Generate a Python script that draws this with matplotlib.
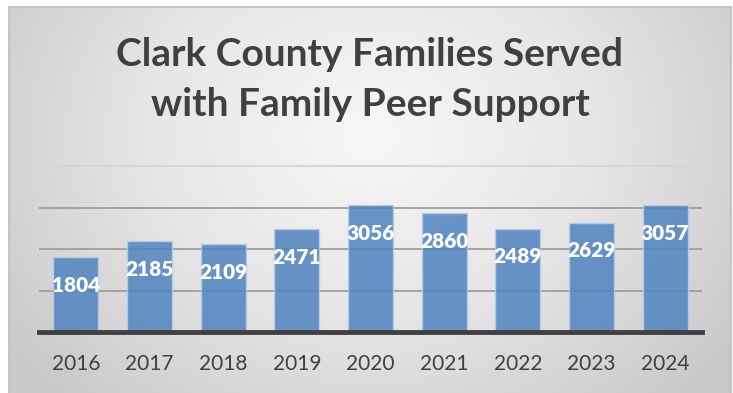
import matplotlib
matplotlib.use("Agg")
import matplotlib.pyplot as plt
import numpy as np
from matplotlib.colors import LinearSegmentedColormap

years = ["2016", "2017", "2018", "2019", "2020", "2021", "2022", "2023", "2024"]
served = [1804, 2185, 2109, 2471, 3056, 2860, 2489, 2629, 3057]
title_lines = ["Clark County Families Served", "with Family Peer Support"]

W, H = 733, 393
fig = plt.figure(figsize=(W / 100, H / 100), dpi=100)
fig.patch.set_facecolor("white")

# chart area background (radial gradient)
bx0, bx1, by0, by1 = 9, 731, 7, 393
bg = fig.add_axes([bx0 / W, 1 - by1 / H, (bx1 - bx0) / W, (by1 - by0) / H])
ny, nx = 200, 400
yy, xx = np.mgrid[0:ny, 0:nx]
cx, cy = nx * 0.5, ny * 0.33
d = np.sqrt(((xx - cx) / (nx * 0.62)) ** 2 + ((yy - cy) / (ny * 0.95)) ** 2)
d = np.clip(d, 0, 1)
cmap = LinearSegmentedColormap.from_list("g", ["#f7f7f7", "#e6e6e6", "#c9c9c9"])
bg.imshow(d, cmap=cmap, aspect="auto", extent=[0, 1, 0, 1], origin="upper")
bg.set_xlim(0, 1); bg.set_ylim(0, 1)
bg.set_xticks([]); bg.set_yticks([])
for s in ["top", "left", "right"]:
    bg.spines[s].set_color("#bdbdbd")
    bg.spines[s].set_linewidth(1.2)
bg.spines["bottom"].set_visible(False)

# plot area
px0, px1, py0, py1 = 39, 702, 166, 332
ax = fig.add_axes([px0 / W, 1 - py1 / H, (px1 - px0) / W, (py1 - py0) / H])
ax.set_facecolor("none")
x = np.arange(len(years))
ax.set_xlim(-0.5, len(years) - 0.5)
ax.set_ylim(0, 4000)
for gv in [1000, 2000, 3000]:
    ax.axhline(gv, color="#a3a3a3", lw=1.4, zorder=1)
ax.axhline(4000, color="#d6d6d6", lw=1.4, zorder=1, clip_on=False)
bars = ax.bar(x, served, width=0.61, color="#5083c0", alpha=0.85,
              edgecolor="#b8cfea", linewidth=1.0, zorder=2)
ax.axhline(0, color="#404040", lw=3.5, zorder=3, clip_on=False)
for xi, v in zip(x, served):
    ax.annotate(str(v), (xi, v), xytext=(0, -28), textcoords="offset pixels",
                ha="center", va="center", color="white", fontsize=15,
                fontweight="heavy", family="Lato", zorder=4)
ax.set_xticks(x)
ax.set_xticklabels(years, family="Lato", fontsize=15, color="#404040")
ax.tick_params(axis="x", length=0, pad=16)
ax.set_yticks([])
for s in ax.spines.values():
    s.set_visible(False)

fig.text(370 / W, 1 - 54 / H, title_lines[0], ha="center", va="center",
         fontsize=28, fontweight="bold", family="Lato", color="#404040")
fig.text(370 / W, 1 - 105 / H, title_lines[1], ha="center", va="center",
         fontsize=28, fontweight="bold", family="Lato", color="#404040")

fig.savefig("out.png", dpi=100)
